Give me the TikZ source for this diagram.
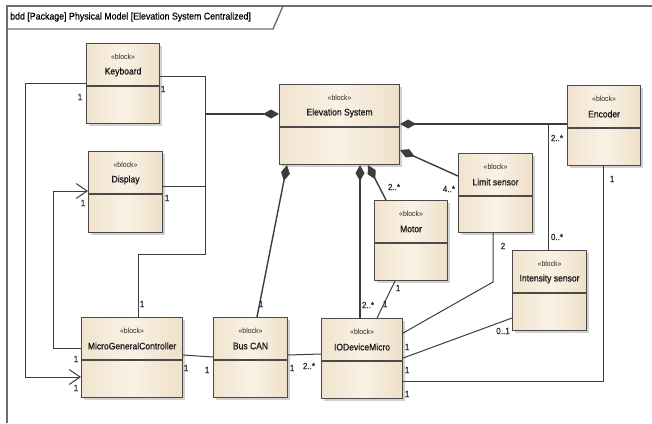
\documentclass[tikz,border=0pt]{standalone}
\usepackage{fontspec}
\setmainfont{Liberation Sans}[FakeStretch=0.92]
\newfontfamily\namefont{Liberation Sans}[FakeStretch=0.9, FakeBold=0.7]
\newfontfamily\multfont{Liberation Sans}[FakeStretch=0.9, FakeBold=0.4]
\usetikzlibrary{arrows.meta,shadows,calc}

\definecolor{blkL}{HTML}{F1E3CE}
\definecolor{blkM}{HTML}{FAF2E6}
\definecolor{blkR}{HTML}{EEDFC8}
\definecolor{edgegray}{HTML}{4A4A4A}
\definecolor{wiregray}{HTML}{3C3C3C}
\definecolor{framegray}{HTML}{6E6E6E}

\tikzset{
  blk/.style={draw=edgegray, line width=1.1pt, left color=blkL, right color=blkR, middle color=blkM,
    drop shadow={shadow xshift=2.5pt, shadow yshift=-2.5pt, fill=black!30, opacity=0.6},
    inner sep=0pt, anchor=north west},
  divider/.style={draw=edgegray, line width=1.1pt},
  stereo/.style={font=\fontsize{7.5}{8}\selectfont, text=black!85, inner sep=0pt},
  bname/.style={font=\namefont\fontsize{9.5}{11}\selectfont, text=black!90, inner sep=0pt},
  mult/.style={font=\multfont\fontsize{9}{10}\selectfont, text=black!85, inner sep=0pt},
  hdr/.style={font=\multfont\fontsize{9.8}{11}\selectfont, inner sep=0pt},
  wire/.style={draw=wiregray, line width=1pt},
  comp/.style={wire, line width=1.4pt, {Diamond[length=16pt,width=9pt]}-},
  assoc/.style={wire, -{Straight Barb[length=11pt,width=15pt,line width=1pt]}},
  frameline/.style={draw=framegray, line width=1.4pt}
}

% a SysML block: name, left, top, width, height, title
\newcommand\sysblock[6]{%
  \node[blk, minimum width=#4pt, minimum height=#5pt] (#1) at (#2,#3) {};
  \draw[divider] ([yshift=-43pt]#1.north west) -- ([yshift=-43pt]#1.north east);
  \node[stereo] (#1-st) at ([yshift=-14pt]#1.north) {«block»};
  \node[bname] (#1-nm) at ([yshift=-29pt]#1.north) {#6};
}

\begin{document}
\begin{tikzpicture}[x=1pt,y=-1pt]
\useasboundingbox (0,0) rectangle (652,423);

% diagram frame and header tab
\draw[frameline] (7,423) -- (7,6) -- (652,6);
\draw[frameline] (7,29) -- (273,29) -- (283,6);
\node[hdr, anchor=west] (title) at (10,17) {bdd [Package] Physical Model [Elevation System Centralized]};

% blocks
\sysblock{kb}{86}{43}{73}{80}{Keyboard}
\sysblock{disp}{88}{151}{74}{81}{Display}
\sysblock{es}{279}{84}{120}{80}{Elevation System}
\sysblock{enc}{567}{85}{73}{80}{Encoder}
\sysblock{lim}{458}{153}{74}{79}{Limit sensor}
\sysblock{mot}{374}{200}{73}{80}{Motor}
\sysblock{ints}{512}{250}{74}{80}{Intensity sensor}
\sysblock{mgc}{81}{317}{101}{80}{MicroGeneralController}
\sysblock{bus}{213}{317}{74}{80}{Bus CAN}
\sysblock{iod}{321}{318}{81}{80}{IODeviceMicro}

% shared composition tree on the left of Elevation System
\coordinate (jt) at (205,114);
\coordinate (jb) at (205,254);
\draw[comp] ($(es.north west)+(0,30)$) -- (jt);
\draw[wire] ($(kb.north east)+(0,33)$) -| (jt);
\draw[wire] ($(disp.north east)+(0,35)$) -| (jt);
\draw[wire] (jt) -- (jb) -| ($(mgc.north west)+(57,0)$);

% directed associations into the controller and the display
\draw[assoc] ($(kb.north west)+(0,40)$) -- (25,83) |- ($(mgc.north west)+(0,60)$);
\draw[assoc] ($(mgc.north west)+(0,31)$) -- (53,348) |- ($(disp.north west)+(0,40)$);

% bottom row links
\draw[wire] ($(mgc.north east)+(0,38)$) -- ($(bus.north west)+(0,40)$);
\draw[wire] ($(bus.north east)+(0,38)$) -- ($(iod.north west)+(0,36)$);

% compositions of Elevation System
\draw[comp] ($(es.south west)+(8,0)$) -- ($(bus.north west)+(44,0)$);
\draw[comp] ($(es.south west)+(81,0)$) -- ($(iod.north west)+(39,0)$);
\draw[comp] ($(es.south west)+(89,0)$) -- ($(mot.north west)+(12,0)$);
\draw[comp] ($(es.north east)+(0,66)$) -- ($(lim.north west)+(0,23)$);
\draw[comp] ($(es.north east)+(0,40)$) -- ($(enc.north west)+(0,39)$);
\coordinate (ej) at (548,124);
\draw[wire] ($(ints.north west)+(36,0)$) -- (ej);

% links to IODeviceMicro
\draw[wire] ($(enc.south west)+(36,0)$) |- ($(iod.north east)+(0,63)$);
\draw[wire] ($(lim.south west)+(35,0)$) -- (493,282) -- ($(iod.north east)+(0,15)$);
\draw[wire] ($(ints.north west)+(0,68)$) -- ($(iod.north east)+(0,40)$);
\draw[wire] ($(mot.south west)+(21,0)$) -- ($(iod.north west)+(56,0)$);

% multiplicities
\node[mult] (m1) at (163,89) {1};
\node[mult] (m2) at (167,198) {1};
\node[mult] (m3) at (142,304) {1};
\node[mult] (m4) at (80,97) {1};
\node[mult] (m5) at (76,388) {1};
\node[mult] (m6) at (83,203) {1};
\node[mult] (m7) at (76,359) {1};
\node[mult] (m8) at (186,368) {1};
\node[mult] (m9) at (207,370) {1};
\node[mult] (m10) at (292,368) {1};
\node[mult] (m11) at (309,366) {2..*};
\node[mult] (m12) at (261,304) {1};
\node[mult] (m13) at (368,305) {2..*};
\node[mult] (m14) at (385,304) {1};
\node[mult] (m15) at (398,288) {1};
\node[mult] (m16) at (394,187) {2..*};
\node[mult] (m17) at (449,189) {4..*};
\node[mult] (m18) at (557,138) {2..*};
\node[mult] (m19) at (557,237) {0..*};
\node[mult] (m20) at (612,179) {1};
\node[mult] (m21) at (503,246) {2};
\node[mult] (m22) at (503,331) {0..1};
\node[mult] (m23) at (407,347) {1};
\node[mult] (m24) at (407,370) {1};
\node[mult] (m25) at (407,394) {1};
\end{tikzpicture}
\end{document}
